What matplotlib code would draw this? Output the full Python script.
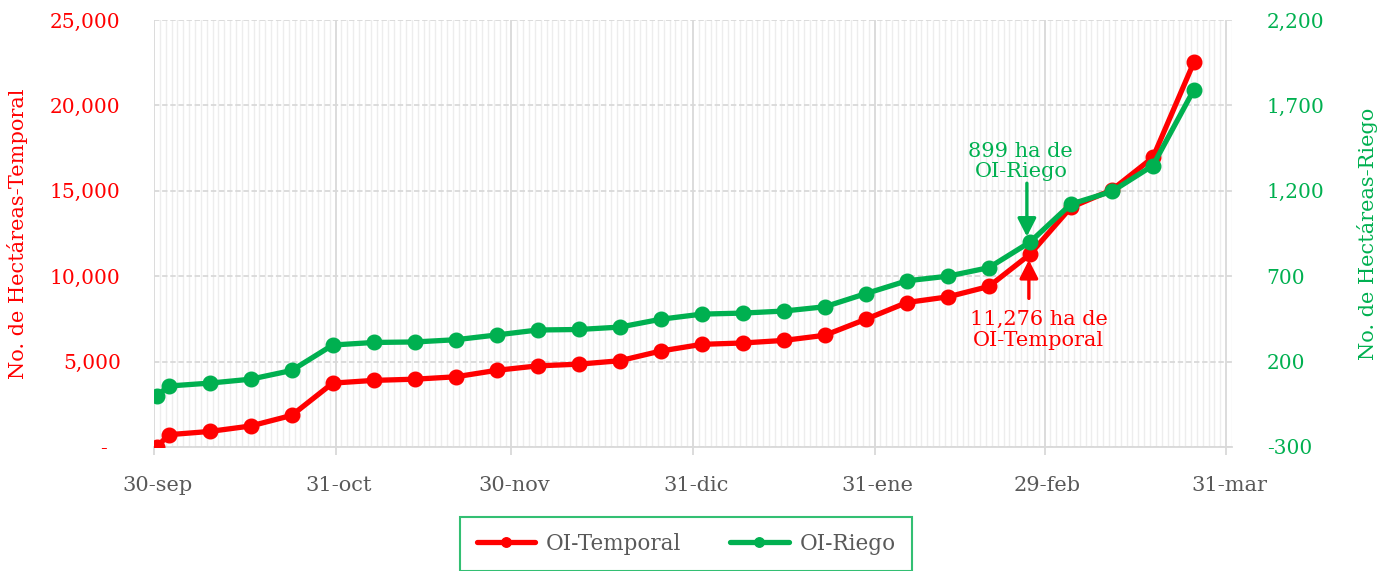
import matplotlib
matplotlib.use("Agg")
import matplotlib.pyplot as plt
import matplotlib.dates as mdates
import matplotlib.transforms as mtransforms
import pandas as pd

# ---------------- data ----------------
dates = ['2023-09-30', '2023-10-02', '2023-10-09', '2023-10-16', '2023-10-23', '2023-10-30',
         '2023-11-06', '2023-11-13', '2023-11-20', '2023-11-27', '2023-12-04', '2023-12-11',
         '2023-12-18', '2023-12-25', '2024-01-01', '2024-01-08', '2024-01-15', '2024-01-22',
         '2024-01-29', '2024-02-05', '2024-02-12', '2024-02-19', '2024-02-26', '2024-03-04',
         '2024-03-11', '2024-03-18', '2024-03-25']
temporal = [0, 720, 910, 1230, 1850, 3740, 3900, 3970, 4110, 4490, 4750, 4850, 5050, 5620,
            6010, 6090, 6240, 6540, 7480, 8460, 8790, 9400, 11276, 14030, 15050, 16950, 22530]
riego = [0, 57, 74, 97, 148, 297, 312, 315, 328, 356, 385, 388, 402, 448, 478, 484, 496,
         521, 598, 673, 700, 750, 899, 1122, 1196, 1348, 1792]

xtick_dates = ['2023-09-30', '2023-10-31', '2023-11-30', '2023-12-31', '2024-01-31',
               '2024-02-29', '2024-03-31']
xtick_labels = ['30-sep', '31-oct', '30-nov', '31-dic', '31-ene', '29-feb', '31-mar']
left_ticks = [0, 5000, 10000, 15000, 20000, 25000]
left_labels = ['-  ', '5,000', '10,000', '15,000', '20,000', '25,000']
right_ticks = [-300, 200, 700, 1200, 1700, 2200]
right_labels = ['-300', '200', '700', '1,200', '1,700', '2,200']

ann_riego = "899 ha de\nOI-Riego"
ann_temporal = "11,276 ha de\nOI-Temporal"

# ---------------- style ----------------
RED = '#FF0000'
GREEN = '#00B050'
GRAY = '#595959'
GRID = '#D9D9D9'
FONT = 'DejaVu Serif'
plt.rcParams['font.family'] = [FONT, 'DejaVu Sans']

fig = plt.figure(figsize=(13.79, 5.71), dpi=100)
ax = fig.add_axes([154/1379, 1-447/571, (1232-154)/1379, (447-20)/571])
ax2 = ax.twinx()

# Excel date-axis points sit in the middle of each day slot
x = pd.to_datetime(dates) + pd.Timedelta(hours=12)
xt = pd.to_datetime(xtick_dates)

ax.set_xlim(pd.Timestamp('2023-09-30'), pd.Timestamp('2024-04-01'))
ax.set_ylim(0, 25000)
ax2.set_ylim(-300, 2200)

# grid
ax.xaxis.set_minor_locator(mdates.DayLocator())
ax.grid(True, which='minor', axis='x', color='#EDEDED', lw=1.0, zorder=0)
ax.grid(True, which='major', axis='x', color=GRID, lw=1.3, zorder=0)
ax.grid(True, which='major', axis='y', color=GRID, lw=1.3, ls=(0, (3, 1.5)), zorder=0)
ax.set_axisbelow(True)

ax.set_xticks(xt)
ax.set_xticklabels(xtick_labels)
ax.tick_params(axis='x', which='major', length=6, width=1.3, color=GRID, pad=15,
               labelsize=15, labelcolor=GRAY)
ax.tick_params(axis='x', which='minor', length=0)
shift = mtransforms.ScaledTranslation(3/100, 0, fig.dpi_scale_trans)
for lab in ax.get_xticklabels():
    lab.set_transform(lab.get_transform() + shift)

ax.set_yticks(left_ticks)
ax.set_yticklabels(left_labels)
ax.tick_params(axis='y', length=0, pad=24, labelsize=14.5, labelcolor=RED)
ax2.set_yticks(right_ticks)
ax2.set_yticklabels(right_labels)
ax2.tick_params(axis='y', length=0, pad=25, labelsize=14.5, labelcolor=GREEN)

for a in (ax, ax2):
    for s in ('top', 'left', 'right'):
        a.spines[s].set_visible(False)
    a.spines['bottom'].set_color(GRID)
    a.spines['bottom'].set_linewidth(1.3)
ax2.spines['bottom'].set_visible(False)

ax.set_ylabel('No. de Hectáreas-Temporal', color=RED, fontsize=15)
ax.yaxis.set_label_coords(-0.117, 0.5)
ax2.set_ylabel('No. de Hectáreas-Riego', color=GREEN, fontsize=15)
ax2.yaxis.set_label_coords(1.116, 0.5)

# lines
l1, = ax.plot(x, temporal, color=RED, lw=3.8, marker='o', ms=10.5, zorder=3,
              label='OI-Temporal', solid_capstyle='round')
l2, = ax2.plot(x, riego, color=GREEN, lw=3.8, marker='o', ms=10.5, zorder=3,
               label='OI-Riego', solid_capstyle='round')

# annotations
i = temporal.index(11276)
xi = mdates.date2num(x[i])
arrow_kw = dict(arrowstyle='-|>,head_length=0.55,head_width=0.28', lw=2.4,
                mutation_scale=20, shrinkA=0, shrinkB=4)
g_trans = mtransforms.offset_copy(ax2.transData, fig=fig, x=-3, y=0, units='dots')
r_trans = mtransforms.offset_copy(ax.transData, fig=fig, x=-1, y=0, units='dots')
ax2.annotate('', xy=(xi, riego[i]), xycoords=g_trans,
             xytext=(0, 59), textcoords='offset pixels',
             arrowprops=dict(color=GREEN, **arrow_kw))
ax2.annotate(ann_riego, xy=(xi, riego[i]), xycoords='data',
             xytext=(-9, 61), textcoords='offset pixels', ha='center', va='bottom',
             color=GREEN, fontsize=15, linespacing=1.1)
ax.annotate(ann_temporal, xy=(xi, temporal[i]), xycoords='data',
            xytext=(9, -56), textcoords='offset pixels', ha='center', va='top',
            color=RED, fontsize=15, linespacing=1.1)
ax.annotate('', xy=(xi, temporal[i]), xycoords=r_trans,
            xytext=(0, -44), textcoords='offset pixels',
            arrowprops=dict(color=RED, **arrow_kw))

# legend
leg = fig.legend(handles=[l1, l2], loc='center', bbox_to_anchor=(686/1379, 1-544/571),
                 ncol=2, frameon=True, fancybox=False, fontsize=15.5, handlelength=2.7,
                 handletextpad=0.5, columnspacing=2.3, borderpad=0.75, borderaxespad=0,
                 markerscale=0.65)
leg.get_frame().set_edgecolor(GREEN)
leg.get_frame().set_linewidth(1.5)
for t in leg.get_texts():
    t.set_color(GRAY)

fig.savefig('out.png', dpi=100)
